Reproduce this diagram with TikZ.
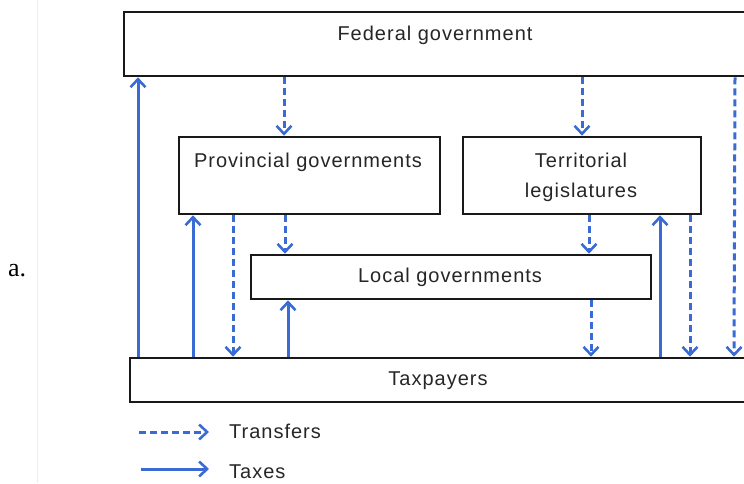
\documentclass[tikz,border=0pt]{standalone}
\usepackage{fontspec}
\setmainfont{Liberation Sans}
\newfontfamily\diagfont{Liberation Sans}[LetterSpace=5]
\newfontfamily\itemfont{Liberation Serif}
\usetikzlibrary{arrows.meta}
\definecolor{flowblue}{HTML}{3A6BD4}
\tikzset{
  govbox/.style={draw=black!90, line width=2.6pt, fill=white, inner sep=0pt},
  boxtext/.style={font=\diagfont\fontsize{20}{30}\selectfont, text=black!85, inner sep=0pt},
  tax/.style={flowblue, line width=3pt, -{Straight Barb[length=8pt,width=15pt,line width=2.6pt]}},
  transfer/.style={tax, dash pattern=on 7pt off 4pt},
}
\begin{document}
\begin{tikzpicture}[x=1pt, y=-1pt]
    \useasboundingbox (0,0) rectangle (744,483);
    \clip (0,0) rectangle (744,483);
    \draw[black!7, line width=1pt] (37,0) -- (37,483);
    \node[font=\itemfont\fontsize{26}{26}\selectfont, anchor=base west, inner sep=0pt] (item) at (8,276) {a.};
    % boxes
    \node[govbox, minimum width=622pt, minimum height=64pt] (fed) at (435,44) {};
    \node[boxtext, anchor=base] (fedtext) at (435,40) {Federal government};
    \node[govbox, minimum width=261pt, minimum height=77pt] (prov) at (309.5,175.5) {};
    \node[boxtext, anchor=base] (provtext) at (308,167) {Provincial governments};
    \node[govbox, minimum width=238pt, minimum height=77pt] (terr) at (582,175.5) {};
    \node[boxtext, anchor=base, align=center] (terrtext) at (581,197) {Territorial\\legislatures};
    \node[govbox, minimum width=400pt, minimum height=44pt] (local) at (451,277) {};
    \node[boxtext, anchor=base] (localtext) at (450,282) {Local governments};
    \node[govbox, minimum width=616pt, minimum height=44pt] (taxp) at (438,380) {};
    \node[boxtext, anchor=base] (taxptext) at (438,385) {Taxpayers};
    % taxes
    \draw[tax] (taxp.north -| 138,0) -- (fed.south -| 138,0);
    \draw[tax] (taxp.north -| 193,0) -- (prov.south -| 193,0);
    \draw[tax] (taxp.north -| 288,0) -- (local.south -| 288,0);
    \draw[tax] (taxp.north -| 660,0) -- (terr.south -| 660,0);
    % transfers
    \draw[transfer] (fed.south -| 284,0) -- (prov.north -| 284,0);
    \draw[transfer] (fed.south -| 582,0) -- (terr.north -| 582,0);
    \draw[transfer] (fed.south -| 735,0) -- (taxp.north -| 734,0);
    \draw[transfer] (prov.south -| 233,0) -- (taxp.north -| 233,0);
    \draw[transfer] (prov.south -| 285,0) -- (local.north -| 285,0);
    \draw[transfer] (terr.south -| 589,0) -- (local.north -| 589,0);
    \draw[transfer] (local.south -| 591,0) -- (taxp.north -| 591,0);
    \draw[transfer] (terr.south -| 690,0) -- (taxp.north -| 690,0);
    % legend
    \coordinate (trA) at (139,432);
    \coordinate (trB) at (209,432);
    \coordinate (txA) at (141,469);
    \coordinate (txB) at (209,469);
    \draw[transfer] (trA) -- (trB);
    \draw[tax] (txA) -- (txB);
    \node[boxtext, anchor=base west] (trtext) at (229,438) {Transfers};
    \node[boxtext, anchor=base west] (txtext) at (229,478) {Taxes};
\end{tikzpicture}
\end{document}
